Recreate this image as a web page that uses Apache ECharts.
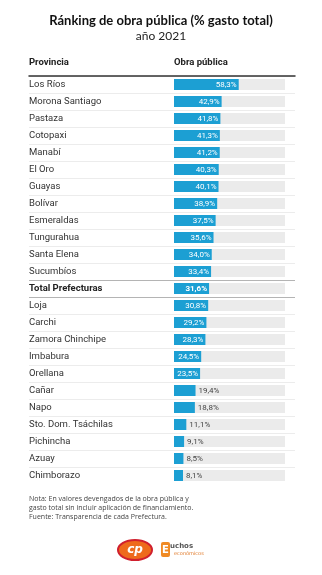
<!DOCTYPE html>
<html>
<head>
<meta charset="utf-8">
<script src="https://cdn.jsdelivr.net/npm/echarts@6/dist/echarts.min.js"></script>
<style>
  html, body { margin: 0; padding: 0; background: #ffffff; }
  #chart { width: 322px; height: 575px; }
</style>
</head>
<body>
<div id="chart"></div>
<script>
// Provinces ordered by share of public works in total spending, 2021
const provincias = [
  'Los Ríos', 'Morona Santiago', 'Pastaza', 'Cotopaxi', 'Manabí', 'El Oro',
  'Guayas', 'Bolívar', 'Esmeraldas', 'Tungurahua', 'Santa Elena', 'Sucumbíos',
  'Total Prefecturas', 'Loja', 'Carchi', 'Zamora Chinchipe', 'Imbabura', 'Orellana',
  'Cañar', 'Napo', 'Sto. Dom. Tsáchilas', 'Pichincha', 'Azuay', 'Chimborazo'
];
const obraPublica = [
  58.3, 42.9, 41.8, 41.3, 41.2, 40.3,
  40.1, 38.9, 37.5, 35.6, 34.0, 33.4,
  31.6, 30.8, 29.2, 28.3, 24.5, 23.5,
  19.4, 18.8, 11.1, 9.1, 8.5, 8.1
];
const totalName = 'Total Prefecturas';
const notas = [
  'Nota: En valores devengados de la obra pública y',
  'gasto total sin incluir aplicación de financiamiento.',
  'Fuente: Transparencia de cada Prefectura.'
];

const FONT = 'Roboto, "Noto Sans", sans-serif';
const BLUE = '#1c9fd3';
const fmt = v => v.toFixed(1).replace('.', ',') + '%';

// Separator colours: one per category boundary (top of each row, plus bottom edge)
const sepColors = provincias.map((p, i) =>
  (p === totalName || provincias[i - 1] === totalName) ? '#b4b4b4' : '#ececec');
sepColors.push('rgba(0,0,0,0)');

const barData = obraPublica.map((v, i) => {
  const isTotal = provincias[i] === totalName;
  const inside = v >= 20;
  return {
    value: v,
    label: {
      position: inside ? 'insideRight' : 'right',
      distance: inside ? 2 : 3,
      color: inside ? '#ffffff' : '#444444',
      fontWeight: isTotal ? 'bold' : 'normal'
    }
  };
});

const chart = echarts.init(document.getElementById('chart'), null, { renderer: 'canvas' });

const GRID_TOP = 76;
const GRID_BOTTOM = 91;

chart.setOption({
  animation: false,
  backgroundColor: '#ffffff',
  grid: [
    { left: 174, right: 37, top: GRID_TOP, bottom: GRID_BOTTOM },
    { left: 29, right: 27, top: GRID_TOP, bottom: GRID_BOTTOM }
  ],
  xAxis: [
    { gridIndex: 0, type: 'value', min: 0, max: 100, show: false },
    {
      gridIndex: 1, type: 'value', min: 0, max: 1, position: 'top',
      axisLine: { show: true, lineStyle: { color: '#333333', width: 1.5 } },
      axisTick: { show: false }, axisLabel: { show: false }, splitLine: { show: false }
    }
  ],
  yAxis: [
    {
      gridIndex: 0, type: 'category', inverse: true, data: provincias,
      axisLine: { show: false }, axisTick: { show: false }, splitLine: { show: false },
      axisLabel: {
        align: 'left', margin: 145, fontFamily: FONT, fontSize: 9.5, color: '#333333',
        formatter: v => v === totalName ? '{b|' + v + '}' : v,
        rich: { b: { fontWeight: 'bold', fontFamily: FONT, fontSize: 9.5, color: '#222222' } }
      }
    },
    {
      gridIndex: 1, type: 'category', inverse: true, data: provincias,
      axisLine: { show: false }, axisTick: { show: false }, axisLabel: { show: false },
      splitLine: { show: true, interval: 0, lineStyle: { color: sepColors, width: 1 } }
    }
  ],
  series: [{
    type: 'bar',
    xAxisIndex: 0, yAxisIndex: 0,
    data: barData,
    barWidth: 11,
    itemStyle: { color: BLUE },
    showBackground: true,
    backgroundStyle: { color: '#ebebeb' },
    label: { show: true, fontFamily: FONT, fontSize: 8, formatter: p => fmt(p.value) }
  }],
  graphic: [
    {
      type: 'text', left: 'center', top: 14,
      style: { text: 'Ránking de obra pública (% gasto total)', font: 'bold 13px Lato, "Noto Sans", sans-serif', fill: '#111111' }
    },
    {
      type: 'text', left: 'center', top: 30,
      style: { text: 'año 2021', font: '12px Lato, "Noto Sans", sans-serif', fill: '#222222' }
    },
    {
      type: 'text', left: 29, top: 58,
      style: { text: 'Provincia', font: 'bold 9.5px ' + FONT, fill: '#222222' }
    },
    {
      type: 'text', left: 174, top: 58,
      style: { text: 'Obra pública', font: 'bold 9.5px ' + FONT, fill: '#222222' }
    },
    {
      type: 'text', left: 29, top: 494,
      style: { text: notas.join('\n'), font: '7px "Open Sans", sans-serif', lineHeight: 9, fill: '#444444' }
    },
    // Logos
    {
      type: 'ellipse', shape: { cx: 135, cy: 550, rx: 17, ry: 10 },
      style: { fill: '#ee6a1c', stroke: '#d0202e', lineWidth: 2 }
    },
    {
      type: 'text', x: 135, y: 550,
      style: { text: 'cp', font: 'bold italic 12px "DejaVu Sans", sans-serif', fill: '#ffffff', align: 'center', verticalAlign: 'middle' }
    },
    {
      type: 'rect', shape: { x: 161, y: 542, width: 9, height: 15, r: 2 },
      style: { fill: '#f08a24' }
    },
    {
      type: 'text', x: 165.5, y: 550,
      style: { text: 'E', font: 'bold 10px "DejaVu Sans", sans-serif', fill: '#ffffff', align: 'center', verticalAlign: 'middle' }
    },
    {
      type: 'text', x: 170, y: 546,
      style: { text: 'uchos', font: 'bold 7px "DejaVu Sans", sans-serif', fill: '#555555', verticalAlign: 'middle' }
    },
    {
      type: 'text', x: 174, y: 553.5,
      style: { text: 'económicos', font: '5px "DejaVu Sans", sans-serif', fill: '#e07a2a', verticalAlign: 'middle' }
    }
  ]
});
</script>
</body>
</html>
